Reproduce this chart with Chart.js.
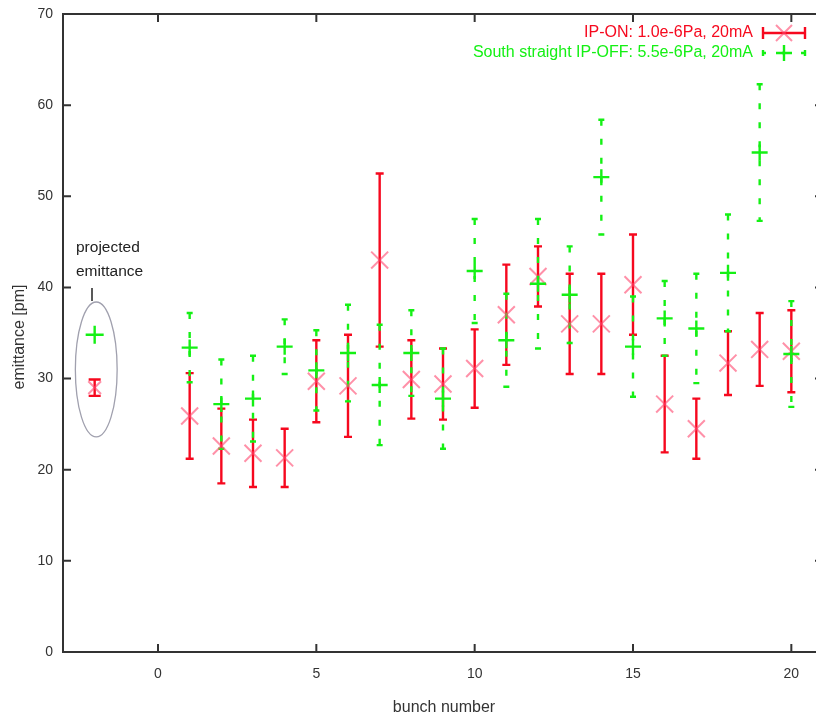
<!DOCTYPE html>
<html>
<head>
<meta charset="utf-8">
<title>emittance vs bunch number</title>
<script src="https://cdn.jsdelivr.net/npm/chart.js@4.4.1/dist/chart.umd.min.js"></script>
<style>
  html, body { margin: 0; padding: 0; background: #fff; overflow: hidden; }
  canvas { display: block; }
</style>
</head>
<body>
<canvas id="myChart" width="837" height="717"></canvas>
<script>
// bunch index along x
let bunch = [1, 2, 3, 4, 5, 6, 7, 8, 9, 10, 11, 12, 13, 14, 15, 16, 17, 18, 19, 20]

// IP-ON: 1.0e-6Pa, 20mA
let ipOn    = [25.9, 22.6, 21.8, 21.3, 29.7, 29.2, 43.0, 29.9, 29.4, 31.1, 37.0, 41.2, 36.0, 36.0, 40.3, 27.2, 24.5, 31.7, 33.2, 33.0]
let ipOnErr = [4.7, 4.1, 3.7, 3.2, 4.5, 5.6, 9.5, 4.3, 3.9, 4.3, 5.5, 3.3, 5.5, 5.5, 5.5, 5.3, 3.3, 3.5, 4.0, 4.5]

// South straight IP-OFF: 5.5e-6Pa, 20mA
let ipOff    = [33.4, 27.2, 27.8, 33.5, 30.9, 32.8, 29.3, 32.8, 27.8, 41.8, 34.2, 40.4, 39.2, 52.1, 33.5, 36.6, 35.5, 41.6, 54.8, 32.7]
let ipOffErr = [3.8, 4.9, 4.7, 3.0, 4.4, 5.3, 6.6, 4.7, 5.5, 5.7, 5.1, 7.1, 5.3, 6.3, 5.5, 4.1, 6.0, 6.4, 7.5, 5.8]

// projected emittance, put at bunch -2
let projX      = [-2]
let projOn     = [29.0]
let projOnErr  = [0.9]
let projOff    = [34.8]
let projOffErr = [0]

let xTicks = [0, 5, 10, 15, 20]
let yTicks = [0, 10, 20, 30, 40, 50, 60, 70]

let legendLabels = ['IP-ON: 1.0e-6Pa, 20mA', 'South straight IP-OFF: 5.5e-6Pa, 20mA']

const RED = '#f6081e'
const RED_MARK = 'rgba(255, 70, 110, 0.6)'
const GREEN = '#14f014'
const AXIS = '#333'
const FONT = '"Liberation Sans", Arial, sans-serif'

function points(xs, ys) {
    return xs.map((x, i) => ({ x: x, y: ys[i] }))
}

// vertical error bars, red (solid) first, green (dashed) over them
const errorBars = {
    id: 'errorBars',
    beforeDatasetsDraw(chart) {
        const ctx = chart.ctx
        const yScale = chart.scales.y
        const order = chart.data.datasets.map((d, i) => i).sort((a, b) => chart.data.datasets[b].order - chart.data.datasets[a].order)
        order.forEach(i => {
            const ds = chart.data.datasets[i]
            const meta = chart.getDatasetMeta(i)
            ctx.save()
            ctx.strokeStyle = ds.errColor
            ctx.lineWidth = 2.4
            meta.data.forEach((pt, j) => {
                const err = ds.errors[j]
                if (!err) return
                const top = yScale.getPixelForValue(ds.data[j].y + err)
                const bot = yScale.getPixelForValue(ds.data[j].y - err)
                ctx.setLineDash(ds.errDash)
                ctx.beginPath()
                ctx.moveTo(pt.x, top)
                ctx.lineTo(pt.x, bot)
                ctx.stroke()
                ctx.setLineDash([])
                ctx.beginPath()
                ctx.moveTo(pt.x - ds.capHalf, top)
                ctx.lineTo(pt.x + ds.capHalf, top)
                ctx.moveTo(pt.x - ds.capHalf, bot)
                ctx.lineTo(pt.x + ds.capHalf, bot)
                ctx.stroke()
            })
            ctx.restore()
        })
    }
}

// frame, inward ticks, axis titles, legend and the projected-emittance note
const decorations = {
    id: 'decorations',
    afterDraw(chart) {
        const ctx = chart.ctx
        const a = chart.chartArea
        const xs = chart.scales.x
        const ys = chart.scales.y
        const tl = 8
        ctx.save()
        ctx.strokeStyle = AXIS
        ctx.lineWidth = 2
        ctx.strokeRect(a.left, a.top, a.right - a.left, a.bottom - a.top)
        ctx.beginPath()
        xTicks.forEach(v => {
            const px = xs.getPixelForValue(v)
            ctx.moveTo(px, a.bottom); ctx.lineTo(px, a.bottom - tl)
            ctx.moveTo(px, a.top); ctx.lineTo(px, a.top + tl)
        })
        yTicks.forEach(v => {
            const py = ys.getPixelForValue(v)
            ctx.moveTo(a.left, py); ctx.lineTo(a.left + tl, py)
            ctx.moveTo(a.right, py); ctx.lineTo(a.right - tl, py)
        })
        ctx.stroke()

        // axis titles
        ctx.fillStyle = '#333'
        ctx.font = '16px ' + FONT
        ctx.textAlign = 'center'
        ctx.textBaseline = 'middle'
        ctx.fillText('bunch number', 444, 708)
        ctx.save()
        ctx.translate(20, 337)
        ctx.rotate(-Math.PI / 2)
        ctx.fillText('emittance [pm]', 0, 0)
        ctx.restore()

        // legend, inside the top right corner
        const lx0 = 763, lx1 = 805, lxm = 784
        const rows = [
            { y: 33, color: RED, dash: [], mark: 'x' },
            { y: 53, color: GREEN, dash: [3, 16], mark: '+' }
        ]
        ctx.textAlign = 'right'
        rows.forEach((r, i) => {
            ctx.fillStyle = r.color
            ctx.fillText(legendLabels[i], 753, r.y)
            ctx.strokeStyle = r.color
            ctx.lineWidth = 2.4
            ctx.setLineDash(r.dash)
            ctx.beginPath()
            ctx.moveTo(lx0, r.y); ctx.lineTo(lx1, r.y)
            ctx.stroke()
            ctx.setLineDash([])
            ctx.beginPath()
            const ch = r.mark === 'x' ? 6 : 3
            ctx.moveTo(lx0, r.y - ch); ctx.lineTo(lx0, r.y + ch)
            ctx.moveTo(lx1, r.y - ch); ctx.lineTo(lx1, r.y + ch)
            ctx.stroke()
            ctx.beginPath()
            if (r.mark === 'x') {
                ctx.strokeStyle = RED_MARK
                ctx.lineWidth = 2
                ctx.moveTo(lxm - 8, r.y - 8); ctx.lineTo(lxm + 8, r.y + 8)
                ctx.moveTo(lxm - 8, r.y + 8); ctx.lineTo(lxm + 8, r.y - 8)
            } else {
                ctx.moveTo(lxm - 8, r.y); ctx.lineTo(lxm + 8, r.y)
                ctx.moveTo(lxm, r.y - 8); ctx.lineTo(lxm, r.y + 8)
            }
            ctx.stroke()
        })

        // projected emittance note with ellipse
        const cx = xs.getPixelForValue(-1.95)
        const cy = ys.getPixelForValue(31.0)
        const rx = xs.getPixelForValue(-1.95 + 0.66) - cx
        const ry = cy - ys.getPixelForValue(31.0 + 7.4)
        ctx.strokeStyle = '#a0a0ae'
        ctx.lineWidth = 1.3
        ctx.beginPath()
        ctx.ellipse(cx, cy, rx, ry, 0, 0, Math.PI * 2)
        ctx.stroke()
        ctx.strokeStyle = '#222'
        ctx.lineWidth = 1.5
        ctx.beginPath()
        ctx.moveTo(92, 288); ctx.lineTo(92, 301)
        ctx.stroke()
        ctx.fillStyle = '#222'
        ctx.font = '15.5px ' + FONT
        ctx.textAlign = 'left'
        ctx.fillText('projected', 76, 248)
        ctx.fillText('emittance', 76, 272)
        ctx.restore()
    }
}

let chart = new Chart(document.getElementById('myChart').getContext('2d'), {
    type: 'scatter',
    data: {
        datasets: [{
            label: legendLabels[0],
            data: points(bunch, ipOn),
            errors: ipOnErr,
            errColor: RED, errDash: [], capHalf: 4,
            pointStyle: 'crossRot', pointRadius: 12,
            borderColor: RED_MARK, borderWidth: 2,
            order: 1
        }, {
            label: legendLabels[1],
            data: points(bunch, ipOff),
            errors: ipOffErr,
            errColor: GREEN, errDash: [6, 13], capHalf: 3,
            pointStyle: 'cross', pointRadius: 8,
            borderColor: GREEN, borderWidth: 2.4,
            order: 0
        }, {
            label: 'projected IP-ON',
            data: points(projX, projOn),
            errors: projOnErr,
            errColor: RED, errDash: [], capHalf: 6,
            pointStyle: 'crossRot', pointRadius: 9,
            borderColor: RED_MARK, borderWidth: 2,
            order: 3
        }, {
            label: 'projected IP-OFF',
            data: points(projX, projOff),
            errors: projOffErr,
            errColor: GREEN, errDash: [], capHalf: 3,
            pointStyle: 'cross', pointRadius: 9,
            borderColor: GREEN, borderWidth: 2.4,
            order: 2
        }]
    },
    options: {
        responsive: false,
        animation: false,
        events: [],
        layout: { padding: { left: 0, top: 14, right: 8, bottom: 0 } },
        plugins: { legend: { display: false }, tooltip: { enabled: false } },
        scales: {
            x: {
                type: 'linear', min: -3, max: 21,
                grid: { display: false },
                border: { display: false },
                afterBuildTicks: s => { s.ticks = xTicks.map(v => ({ value: v })) },
                afterFit: s => { s.height = 65 },
                ticks: { color: '#333', padding: 6, font: { size: 14, family: FONT } }
            },
            y: {
                type: 'linear', min: 0, max: 70,
                grid: { display: false },
                border: { display: false },
                afterBuildTicks: s => { s.ticks = yTicks.map(v => ({ value: v })) },
                afterFit: s => { s.width = 63 },
                ticks: { color: '#333', padding: 2, font: { size: 14, family: FONT } }
            }
        }
    },
    plugins: [errorBars, decorations]
})
</script>
</body>
</html>
